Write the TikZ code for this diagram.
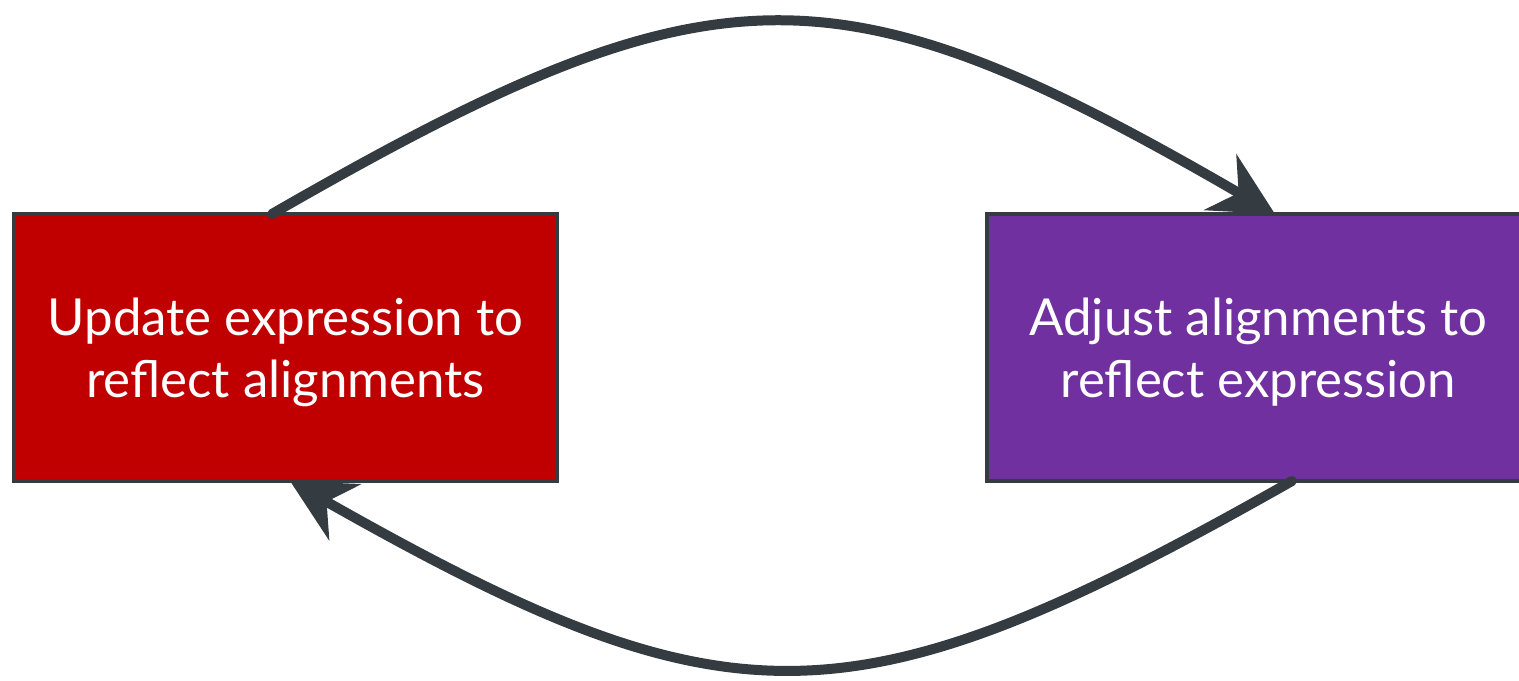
\documentclass[tikz,border=0pt]{standalone}
\usepackage{fontspec}
\setmainfont{Lato}
\usetikzlibrary{positioning, arrows.meta}

\definecolor{slate}{HTML}{343C41}
\definecolor{updred}{HTML}{C00000}
\definecolor{adjpurple}{HTML}{7030A0}

\begin{document}
\begin{tikzpicture}[
    >={Stealth[length=12.6mm, width=12.8mm, inset=4.2mm]}, node distance=19.46cm, on grid,
    stage/.style={rectangle, draw=slate, line width=0.08cm, minimum width=10.86cm, minimum height=5.34cm,
        inner sep=0pt, outer sep=0pt, text=white, align=center, text depth=0pt,
        font=\fontsize{29}{35}\selectfont},
    loop/.style={->, draw=slate, line width=0.2cm, line cap=round}
]
    \useasboundingbox (0,0) rectangle (30.38,13.62);
    \node[stage, fill=updred] (upd) at (5.71,6.67) {Update expression to\\reflect alignments};
    \node[stage, fill=adjpurple] (adj) [right=of upd] {Adjust alignments to\\reflect expression};

    \draw[loop] ([xshift=-0.27cm]upd.north) .. controls +(8.82,5.08) and +(-8.82,5.12) .. ([xshift=0.33cm]adj.north);
    \draw[loop] ([xshift=0.67cm]adj.south) .. controls +(-8.82,-5.0) and +(8.82,-5.0) .. ([xshift=0.09cm]upd.south);
\end{tikzpicture}
\end{document}
